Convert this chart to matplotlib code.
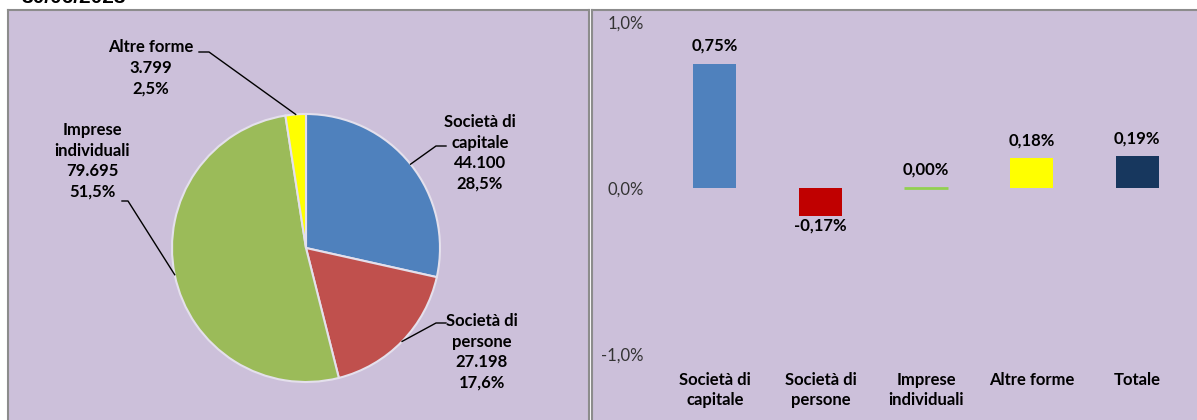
import matplotlib.pyplot as plt
import numpy as np

# Data
pie_labels = ["Società di\ncapitale", "Società di\npersone", "Imprese\nindividuali", "Altre forme"]
imprese = [44100, 27198, 79695, 3799]
pie_colors = ["#4F81BD", "#C0504D", "#9BBB59", "#FFFF00"]

bar_labels = ["Società di\ncapitale", "Società di\npersone", "Imprese\nindividuali", "Altre forme", "Totale"]
variazioni = [0.75, -0.17, 0.00, 0.18, 0.19]   # %
bar_colors = ["#4F81BD", "#C00000", "#92D050", "#FFFF00", "#17375E"]

title = "30/06/2023"

plt.rcParams['font.family'] = ['Lato', 'DejaVu Sans']
W, H = 1197, 420
bg = "#CCC0DA"
border = "#8C8C8C"
fs = 12


def px(x0, y0, x1, y1):
    # pixel box (top-left origin) -> figure fraction rect
    return [x0 / W, 1 - y1 / H, (x1 - x0) / W, (y1 - y0) / H]


def it_num(v):
    return f"{v:,}".replace(",", ".")


def it_pct(v, d=1):
    return f"{v:.{d}f}".replace(".", ",") + "%"


fig = plt.figure(figsize=(W / 100, H / 100), dpi=100)

fig.text(22 / W, 1 - 3 / H, title, fontsize=15, fontweight='bold',
         family='Liberation Sans', va='baseline', ha='left')

# panel backgrounds
for box in [(8, 10, 589, 440), (592, 10, 1220, 440)]:
    pan = fig.add_axes(px(*box), zorder=0)
    pan.set_facecolor(bg)
    pan.set_xticks([])
    pan.set_yticks([])
    for s in pan.spines.values():
        s.set_color(border)
        s.set_linewidth(1.5)

# ---- pie ----
cx, cy, R = 306, 248, 134
ax = fig.add_axes(px(8, 10, 589, 420), zorder=1)
wedges, _ = ax.pie(imprese, colors=pie_colors, startangle=90, counterclock=False,
                   wedgeprops=dict(edgecolor="#E4E0EC", linewidth=1.5))
ax.set_aspect('auto')
ax.set_xlim((8 - cx) / R, (589 - cx) / R)
ax.set_ylim((cy - 420) / R, (cy - 10) / R)
ax.axis('off')


def d(x, y):
    return ((x - cx) / R, (cy - y) / R)


total = sum(imprese)
# text centre, leader start, leader elbow (pixels)
lab_pos = [((480, 153), (446, 146), (436, 146)),
           ((482, 352), (446, 323), (436, 323)),
           ((92, 161), (122, 201), (128, 201)),
           ((151, 68), (199, 52), (209, 52))]
for w, lab, v, (tc, p0, p1) in zip(wedges, pie_labels, imprese, lab_pos):
    ang = np.deg2rad((w.theta1 + w.theta2) / 2)
    txt = f"{lab}\n{it_num(v)}\n{it_pct(v / total * 100)}"
    ax.text(*d(*tc), txt, ha='center', va='center', fontsize=fs,
            fontweight='bold', linespacing=1.35)
    a, b = d(*p0), d(*p1)
    ax.plot([a[0], b[0], np.cos(ang)], [a[1], b[1], np.sin(ang)],
            color='black', lw=1)

# ---- bars ----
bx = fig.add_axes(px(662, 22, 1190, 354), zorder=1)
bx.patch.set_alpha(0)
xs = np.arange(len(variazioni))
bars = bx.bar(xs, variazioni, width=0.41, color=bar_colors,
              edgecolor=bar_colors, linewidth=[0, 0, 2, 0, 0])
bx.set_xlim(-0.5, len(variazioni) - 0.5)
bx.set_ylim(-1, 1)
bx.set_yticks([-1, 0, 1])
bx.set_yticklabels([it_pct(t) for t in [-1, 0, 1]], color='#333333')
bx.set_xticks(xs)
bx.set_xticklabels(bar_labels, fontweight='bold', linespacing=1.3)
bx.tick_params(axis='y', length=0, pad=13, labelsize=fs)
bx.tick_params(axis='x', length=0, pad=13, labelsize=fs)
for s in bx.spines.values():
    s.set_visible(False)

for x, v in zip(xs, variazioni):
    off = 13 if v >= 0 else -7
    bx.annotate(it_pct(v, 2), (x, v), xytext=(0, off), textcoords='offset points',
                ha='center', va='center', fontsize=fs, fontweight='bold')

fig.savefig("out.png", dpi=100)
